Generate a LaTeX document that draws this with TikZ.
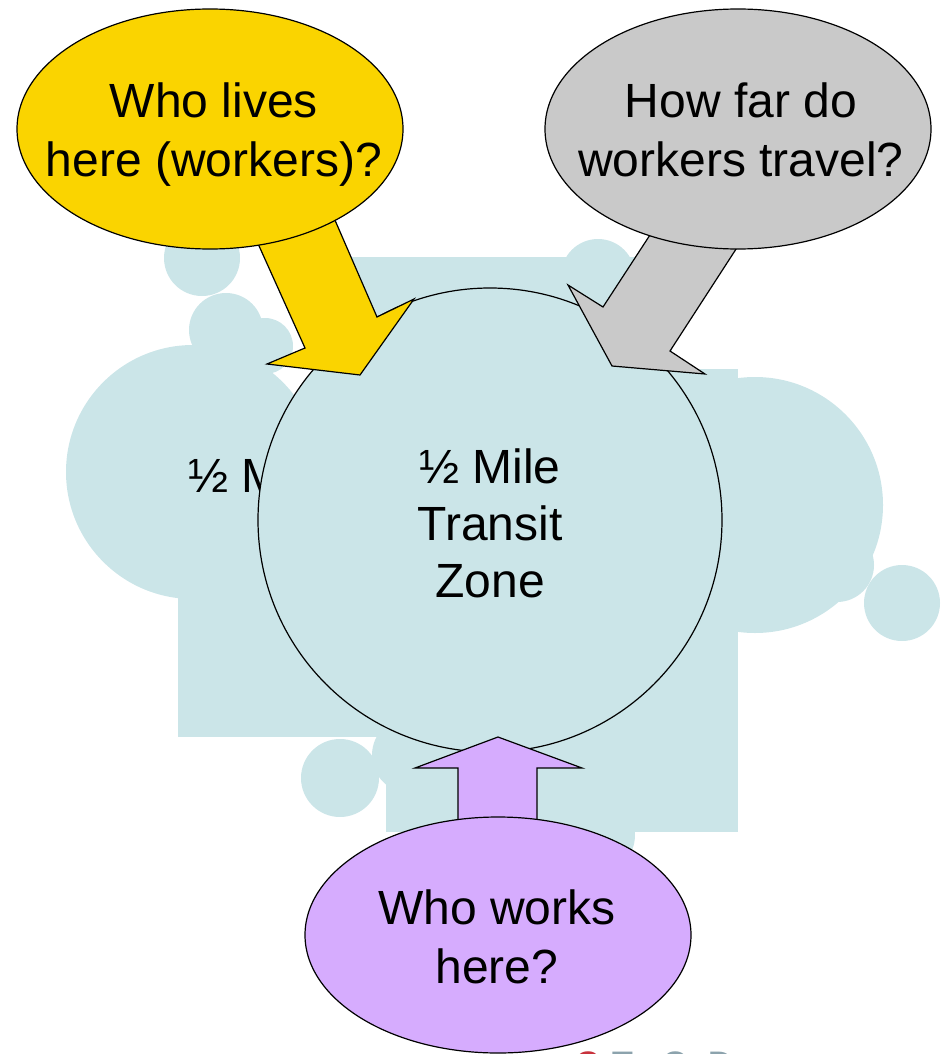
\documentclass[tikz,border=0pt]{standalone}
\usepackage{fontspec}
\setmainfont{Liberation Sans}
\usetikzlibrary{shapes.geometric}
\definecolor{zonebg}{HTML}{CBE5E8}
\definecolor{qyellow}{HTML}{FAD400}
\definecolor{qgray}{HTML}{C9C9C9}
\definecolor{qpurple}{HTML}{D6ACFE}
\definecolor{logored}{HTML}{C8323C}
\definecolor{logogray}{HTML}{8CA3AD}
\begin{document}
\begin{tikzpicture}[x=1pt,y=-1pt,
  blob/.style={fill=zonebg},
  outl/.style={draw=black,line width=1.2pt,line join=miter},
  bubble/.style={ellipse,draw=black,line width=1.2pt,inner sep=0pt,minimum width=386pt,minimum height=240pt},
  qtext/.style={align=center,font=\fontsize{48}{59}\selectfont,inner sep=0pt},
  ztext/.style={align=center,font=\fontsize{48}{57}\selectfont,inner sep=0pt},
  logotext/.style={anchor=base west,inner sep=0pt,font=\bfseries\fontsize{34}{34}\selectfont}]
\useasboundingbox (0,0) rectangle (945,1054);
\begin{scope}
\clip (0,0) rectangle (945,1054);
% background map shapes
\fill[blob] (348,257) rectangle (672,600);
\fill[blob] (178,470) rectangle (490,737);
\fill[blob] (386,369) rectangle (738,832);
\fill[blob] (193,472) circle (127);
\fill[blob] (755,505) circle (128);
\fill[blob] (202,258) circle (38);
\fill[blob] (226,330) circle (37);
\fill[blob] (265,346) circle (28);
\fill[blob] (598,276) circle (37);
\fill[blob] (837,565) circle (37);
\fill[blob] (902,603) circle (38);
\fill[blob] (340,778) circle (39);
\fill[blob] (410,755) circle (38);
\fill[blob] (595,835) circle (40);
\node[ztext,anchor=base west] (lbl) at (188,492) {½ Mile};
% central zone
\node[circle,draw=black,line width=1.2pt,fill=zonebg,minimum size=464pt,inner sep=0pt] (zone) at (490,520) {};
\node[ztext] (zonetxt) at (zone.center) [yshift=-3pt] {½ Mile\\Transit\\Zone};
% block arrows
\filldraw[fill=qyellow,outl] (237,197) -- (305,348) -- (267,364) -- (360,375) -- (414,299) -- (377,317) -- (318,181) -- cycle;
\filldraw[fill=qgray,outl] (678,192) -- (603,307) -- (568,285) -- (612,366) -- (705,374) -- (670,351) -- (773,192) -- cycle;
\filldraw[fill=qpurple,outl] (458,850) -- (458,768) -- (415,768) -- (498,737) -- (582,768) -- (537,768) -- (537,850) -- cycle;
% question bubbles
\node[bubble,fill=qyellow] (lives) at (210,129) {};
\node[qtext] (livestxt) at (214,135) {Who lives\\here (workers)?};
\node[bubble,fill=qgray] (travel) at (738,129) {};
\node[qtext] (traveltxt) at (741,130) {How far do\\workers travel?};
\node[bubble,fill=qpurple,minimum height=236pt] (works) at (498,935) {};
\node[qtext] (workstxt) at (497,937) {Who works\\here?};
% cut-off logo
\node[logotext,text=logored] (logoc) at (575,1075) {C};
\node[logotext,text=logogray] (logot) at (612,1075) {T};
\node[logotext,text=logogray] (logoo) at (662,1075) {O};
\node[logotext,text=logogray] (logod) at (708,1075) {D};
\end{scope}
\end{tikzpicture}
\end{document}
